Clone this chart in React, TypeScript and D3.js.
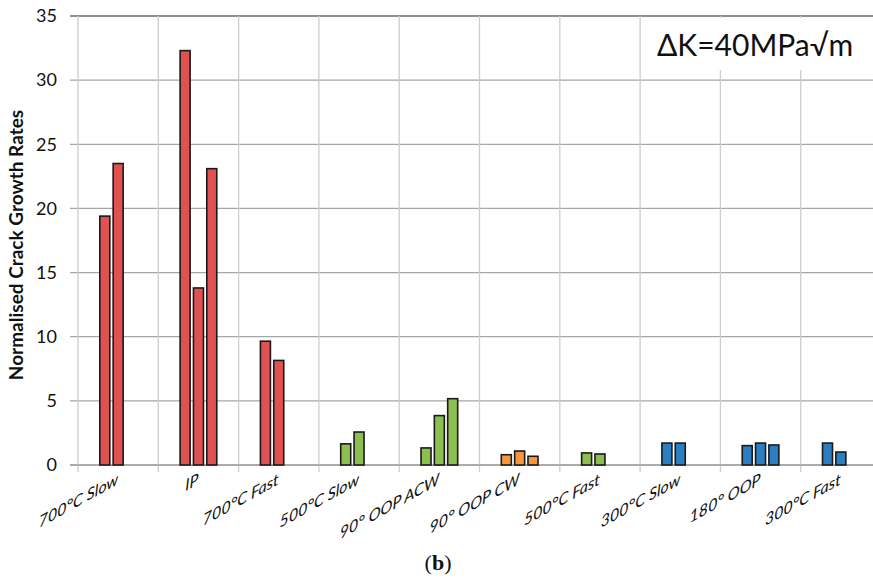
import React from "react";
import * as d3 from "d3";

const categories = [
  "700°C Slow",
  "IP",
  "700°C Fast",
  "500°C Slow",
  "90° OOP ACW",
  "90° OOP CW",
  "500°C Fast",
  "300°C Slow",
  "180° OOP",
  "300°C Fast",
];

// up to three test results per condition (null = no bar)
const series1 = [19.4, 32.3, 9.65, 1.65, 1.33, 0.8, 0.94, 1.71, 1.51, 1.71];
const series2 = [23.5, 13.8, 8.15, 2.57, 3.85, 1.09, 0.86, 1.71, 1.71, 1.01];
const series3: (number | null)[] = [null, 23.1, null, null, 5.17, 0.68, null, null, 1.56, null];

const groupColors = ["#E05151", "#E05151", "#E05151", "#8DBE50", "#8DBE50", "#F7963D", "#8DBE50", "#2A7EC1", "#2A7EC1", "#2A7EC1"];

const yTicks = [0, 5, 10, 15, 20, 25, 30, 35];
const yLabel = "Normalised Crack Growth Rates";
const annotation = "ΔK=40MPa√m";

const W = 873;
const H = 579;
const FONT = "Lato, 'Open Sans', sans-serif";

export default function App() {
  const left = 78;
  const top = 16;
  const bottom = 465;
  const x = d3.scaleBand<string>().domain(categories).range([left, left + 80.3 * categories.length]).padding(0);
  const y = d3.scaleLinear().domain([0, 35]).range([bottom, top]);
  const inner = d3
    .scaleBand<number>()
    .domain([0, 1, 2])
    .range([0, 40])
    .paddingInner(0.25)
    .paddingOuter(0.125);

  const seriesAll = [series1, series2, series3];
  const bars: { cat: string; i: number; s: number; v: number }[] = [];
  categories.forEach((c, i) => {
    seriesAll.forEach((arr, s) => {
      const v = arr[i];
      if (v !== null && v !== undefined) bars.push({ cat: c, i, s, v });
    });
  });

  const boundaries = categories.map((c) => x(c)!).concat([x.range()[1]]);

  return (
    <svg width={W} height={H} style={{ position: "absolute", left: 0, top: 0, background: "#fff" }}>
      {/* horizontal gridlines */}
      {yTicks.map((t) => (
        <line
          key={"h" + t}
          x1={70}
          x2={W}
          y1={y(t)}
          y2={y(t)}
          stroke={t === 35 ? "#6a6a6a" : "#a6a6a6"}
          strokeWidth={t === 35 ? 1.5 : 1.3}
        />
      ))}
      {/* vertical gridlines / category ticks */}
      {boundaries.map((b, i) => (
        <line key={"v" + i} x1={b} x2={b} y1={top} y2={bottom + 7} stroke="#cdcdcd" strokeWidth={1.3} />
      ))}
      {/* baseline */}
      <line x1={70} x2={W} y1={bottom} y2={bottom} stroke="#a6a6a6" strokeWidth={1.5} />

      {/* annotation box */}
      <rect x={646} y={18} width={W - 646} height={52} fill="#fff" />
      <text x={657} y={56} fontFamily={FONT} fontSize={30} fill="#111">
        {annotation}
      </text>

      {/* bars */}
      {bars.map((b, k) => (
        <rect
          key={k}
          x={x(b.cat)! + x.bandwidth() / 2 - 20 + inner(b.s)!}
          y={y(b.v)}
          width={inner.bandwidth()}
          height={bottom - y(b.v)}
          fill={groupColors[b.i]}
          stroke="#1a1a1a"
          strokeWidth={1.6}
        />
      ))}

      {/* y tick labels */}
      {yTicks.map((t) => (
        <text
          key={"yl" + t}
          x={57}
          y={y(t)}
          dy="0.35em"
          textAnchor="end"
          fontFamily={FONT}
          fontSize={18}
          fill="#111"
        >
          {t}
        </text>
      ))}

      {/* y axis label */}
      <text
        transform={`translate(23,${245}) rotate(-90)`}
        textAnchor="middle"
        fontFamily={FONT}
        fontSize={19}
        fontWeight="bold"
        fill="#111"
      >
        {yLabel}
      </text>

      {/* x tick labels */}
      {categories.map((c) => (
        <text
          key={"xl" + c}
          transform={`translate(${x(c)! + x.bandwidth() / 2},${484}) skewY(-29)`}
          textAnchor="end"
          fontFamily={FONT}
          fontSize={16}
          fontStyle="italic"
          fill="#111"
        >
          {c}
        </text>
      ))}

      {/* caption */}
      <text x={438} y={570} textAnchor="middle" fontFamily="'Liberation Serif', serif" fontSize={22} fill="#111">
        (<tspan fontWeight="bold">b</tspan>)
      </text>
    </svg>
  );
}
